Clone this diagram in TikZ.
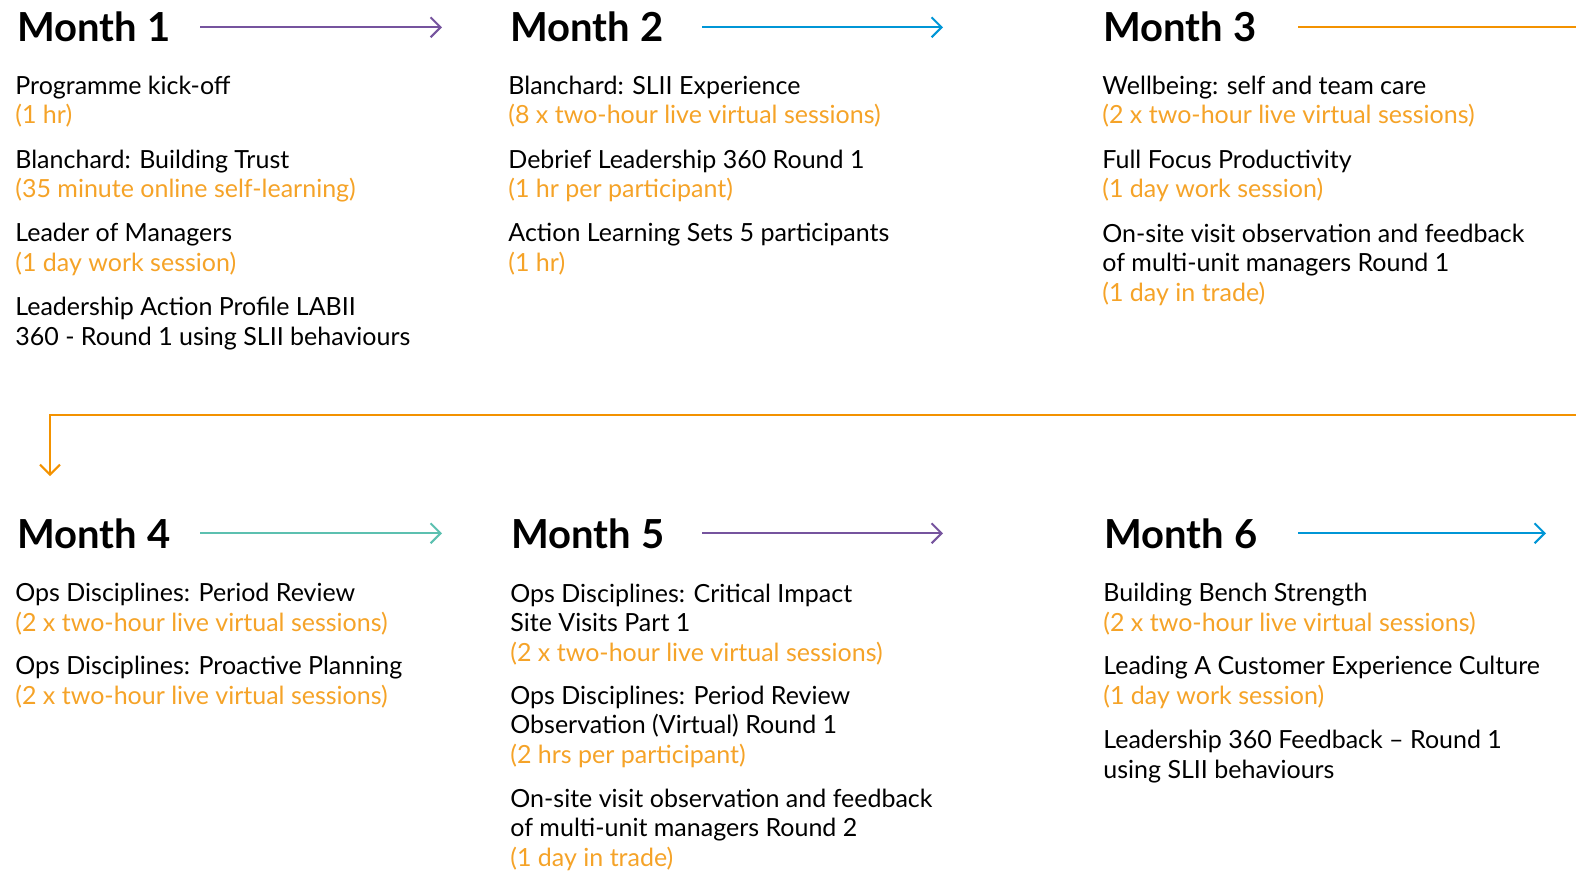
\documentclass[tikz,border=0pt]{standalone}
\usepackage{fontspec}
\setmainfont{Lato}
\usetikzlibrary{arrows.meta}
\definecolor{mpurple}{RGB}{118,84,158}
\definecolor{mblue}{RGB}{0,150,214}
\definecolor{morange}{RGB}{243,146,0}
\definecolor{mteal}{RGB}{92,192,176}
\definecolor{mtime}{RGB}{245,163,40}
\newcommand{\hrs}[1]{\textcolor{mtime}{#1}}
\tikzset{
  month/.style={anchor=base west,inner sep=0pt,font=\fontsize{20}{24}\selectfont\bfseries},
  task/.style={anchor=base west,inner sep=0pt,align=left,font=\fontsize{12.5}{14.75}\selectfont},
  link/.style={line width=1pt,-{Straight Barb[length=5pt,width=10pt,line width=1pt]}},
}
\begin{document}
\begin{tikzpicture}[x=0.5pt,y=-0.5pt]
\clip (0,0) rectangle (1576,872);
% headings
\foreach \n/\x/\y in {1/17/42,2/510/42,3/1103/42,4/17/548,5/511/548,6/1104/548}{\node[month](m\n) at (\x,\y) {Month \n};}
% arrows between months
\foreach \n/\c/\s/\e in {1/mpurple/200/442,2/mblue/702/943,4/mteal/200/442,5/mpurple/702/943,6/mblue/1298/1546}{
  \coordinate (s\n) at (\s,0);
  \coordinate (e\n) at (\e,0);
  \draw[link,\c](m\n.east -| s\n)--(m\n.east -| e\n);}
\coordinate (s3) at (1298,0);
\coordinate (edge) at (1600,415);
\coordinate (drop) at (50,476);
\draw[link,morange](m3.east -| s3) -| (edge) -| (drop);
% month 1 (nodes sit on their last line)
\node[task](kick) at (15,124) {Programme kick-off\\\hrs{(1 hr)}};
\node[task](trust) at (15,198) {Blanchard: Building Trust\\\hrs{(35 minute online self-learning)}};
\node[task](leader) at (15,271) {Leader of Managers\\\hrs{(1 day work session)}};
\node[task](labii) at (15,345) {Leadership Action Profile LABII\\360 - Round 1 using SLII behaviours};
% month 2
\node[task](slii) at (508,124) {Blanchard: SLII Experience\\\hrs{(8 x two-hour live virtual sessions)}};
\node[task](debrief) at (508,198) {Debrief Leadership 360 Round 1\\\hrs{(1 hr per participant)}};
\node[task](sets) at (508,271) {Action Learning Sets 5 participants\\\hrs{(1 hr)}};
% month 3
\node[task](well) at (1102,124) {Wellbeing: self and team care\\\hrs{(2 x two-hour live virtual sessions)}};
\node[task](focus) at (1102,198) {Full Focus Productivity\\\hrs{(1 day work session)}};
\node[task](visit1) at (1102,301) {On-site visit observation and feedback\\of multi-unit managers Round 1\\\hrs{(1 day in trade)}};
% month 4
\node[task](review) at (15,631) {Ops Disciplines: Period Review\\\hrs{(2 x two-hour live virtual sessions)}};
\node[task](plan) at (15,704) {Ops Disciplines: Proactive Planning\\\hrs{(2 x two-hour live virtual sessions)}};
% month 5
\node[task](impact) at (510,661) {Ops Disciplines: Critical Impact\\Site Visits Part 1\\\hrs{(2 x two-hour live virtual sessions)}};
\node[task](observe) at (510,763) {Ops Disciplines: Period Review\\Observation (Virtual) Round 1\\\hrs{(2 hrs per participant)}};
\node[task](visit2) at (510,866) {On-site visit observation and feedback\\of multi-unit managers Round 2\\\hrs{(1 day in trade)}};
% month 6
\node[task](bench) at (1103,631) {Building Bench Strength\\\hrs{(2 x two-hour live virtual sessions)}};
\node[task](culture) at (1103,704) {Leading A Customer Experience Culture\\\hrs{(1 day work session)}};
\node[task](feedback) at (1103,778) {Leadership 360 Feedback -- Round 1\\using SLII behaviours};
\end{tikzpicture}
\end{document}
